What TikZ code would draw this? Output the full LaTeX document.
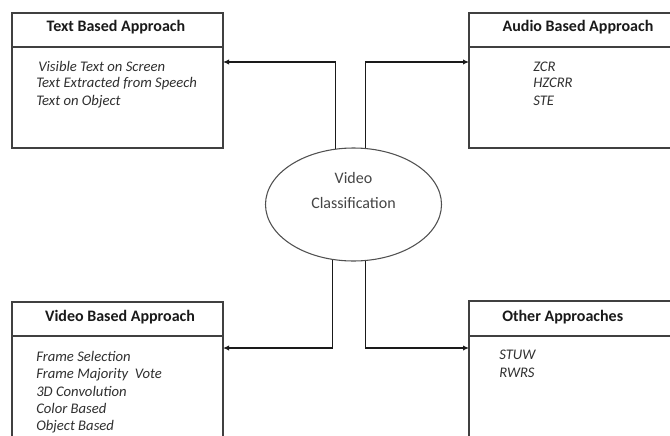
\documentclass[tikz,border=0pt]{standalone}
\usepackage{fontspec}
\setmainfont{Carlito}
\usetikzlibrary{shapes.geometric,arrows.meta}
\definecolor{boxc}{HTML}{404040}
\definecolor{connc}{HTML}{1A1A1A}
\definecolor{ellc}{HTML}{505050}
\definecolor{headc}{HTML}{1A1A1A}
\definecolor{itemc}{HTML}{303030}
\definecolor{ellt}{HTML}{454545}
\begin{document}
\begin{tikzpicture}[x=0.75pt,y=-0.75pt,
  box/.style={draw=boxc,line width=1.3pt,anchor=north west,minimum width=158.25pt,inner sep=0pt,outer sep=0pt},
  divline/.style={draw=boxc,line width=1.3pt},
  head/.style={anchor=base,inner sep=0pt,text=headc,font=\bfseries\fontsize{12}{14}\selectfont},
  item/.style={anchor=base west,inner sep=0pt,text=itemc,font=\itshape\fontsize{11}{13}\selectfont},
  conn/.style={draw=connc,line width=1.1pt,-{Latex[length=4.5pt,width=4pt]}},
  ell/.style={draw=ellc,line width=0.8pt,ellipse,minimum width=132pt,minimum height=84.75pt,inner sep=0pt},
  elltext/.style={anchor=base,inner sep=0pt,text=ellt,font=\fontsize{12}{14}\selectfont}
]
\clip (0,0) rectangle (670,435);
\fill[white] (0,0) rectangle (670,435);

% boxes
\node[box,minimum height=101.25pt] (tb) at (12,13) {};
\node[box,minimum height=101.25pt] (ab) at (469,13) {};
\node[box,minimum height=126pt] (vb) at (12,302) {};
\node[box,minimum height=126pt] (ob) at (469,301) {};

% header dividers
\draw[divline] (tb.west |- 0,47) -- (tb.east |- 0,47);
\draw[divline] (ab.west |- 0,47) -- (ab.east |- 0,47);
\draw[divline] (vb.west |- 0,336) -- (vb.east |- 0,336);
\draw[divline] (ob.west |- 0,336) -- (ob.east |- 0,336);

% headers
\node[head] (tbh) at (116,32) {Text Based Approach};
\node[head] (abh) at (578,32) {Audio Based Approach};
\node[head] (vbh) at (120,321) {Video Based Approach};
\node[head,anchor=base west] (obh) at (502,321) {Other Approaches};

% items
\node[item] (t1) at (38,71) {Visible Text on Screen};
\node[item] (t2) at (36,88) {Text Extracted from Speech};
\node[item] (t3) at (36,105) {Text on Object};

\node[item] (a1) at (533,71) {ZCR};
\node[item] (a2) at (533,88) {HZCRR};
\node[item] (a3) at (533,105) {STE};

\node[item] (v1) at (36,361) {Frame Selection};
\node[item] (v2) at (36,378.5) {Frame Majority\ \ Vote};
\node[item] (v3) at (36,396) {3D Convolution};
\node[item] (v4) at (36,413) {Color Based};
\node[item] (v5) at (36,430) {Object Based};

\node[item] (o1) at (499,359) {STUW};
\node[item] (o2) at (499,377) {RWRS};

% centre
\node[ell] (vc) at (353.5,204.5) {};
\node[elltext] (vct1) at (353.5,183) {Video};
\node[elltext] (vct2) at (353.5,208) {Classification};

% connectors
\coordinate (tin) at (tb.east |- 0,62);
\coordinate (ain) at (ab.west |- 0,62);
\coordinate (vin) at (vb.east |- 0,348);
\coordinate (oin) at (ob.west |- 0,348);
\draw[conn] (vc.108) |- (tin);
\draw[conn] (vc.78) |- (ain);
\draw[conn] (vc.249) |- (vin);
\draw[conn] (vc.282) |- (oin);
\end{tikzpicture}
\end{document}
